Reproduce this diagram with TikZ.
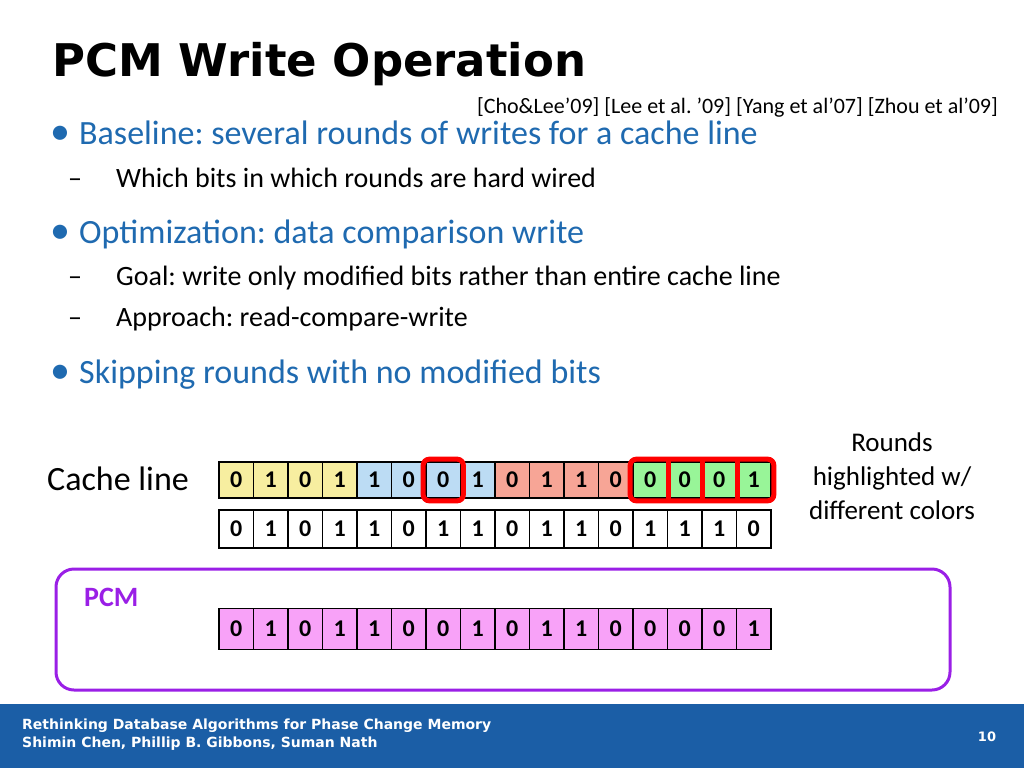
\documentclass[tikz,border=0pt]{standalone}
\usepackage{fontspec}
\setmainfont{Carlito}
\newfontfamily\verd{DejaVu Sans}
\usetikzlibrary{positioning}
\frenchspacing
\definecolor{hdblue}{HTML}{1F6AB0}
\definecolor{ftblue}{HTML}{1B5EA6}
\definecolor{pcmpurple}{HTML}{9A1FE6}
\definecolor{cyel}{HTML}{F7EEA0}
\definecolor{cblu}{HTML}{BCDCF4}
\definecolor{csal}{HTML}{F7A596}
\definecolor{cgrn}{HTML}{98F598}
\definecolor{cpnk}{HTML}{F8A2F8}
\tikzset{bit/.style={draw=black,line width=1.6pt,minimum width=34.5pt,inner sep=0pt,font=\fontsize{24}{26}\selectfont\bfseries},
  hl/.style={draw=red,line width=5pt,rounded corners=6pt}}
\begin{document}
\begin{tikzpicture}[x=1pt,y=-1pt]
\useasboundingbox (0,0) rectangle (1024,768);
% title and bullets
\node[anchor=base west,inner sep=0pt] (title) at (52,77) {\verd\fontsize{45}{48}\selectfont\bfseries PCM Write Operation};
\node[anchor=base east,inner sep=0pt] (cite) at (998,113) {\fontsize{22}{24}\selectfont [Cho\&Lee’09] [Lee et al. ’09] [Yang et al’07] [Zhou et al’09]};
\foreach \y/\t in {144/Baseline: several rounds of writes for a cache line,
                   243/Optimization: data comparison write,
                   383/Skipping rounds with no modified bits}{
  \node[anchor=base west,inner sep=0pt,text=hdblue] at (50,\y) {\fontsize{40}{40}\selectfont •};
  \node[anchor=base west,inner sep=0pt,text=hdblue] at (79,\y) {\fontsize{34}{36}\selectfont \t};
}
\foreach \y/\t in {187/Which bits in which rounds are hard wired,
                   285/Goal: write only modified bits rather than entire cache line,
                   326/Approach: read-compare-write}{
  \node[anchor=base west,inner sep=0pt] at (68,\y) {\fontsize{28}{30}\selectfont –};
  \node[anchor=base west,inner sep=0pt] at (116,\y) {\fontsize{28}{30}\selectfont \t};
}
% cache line
\node[anchor=base,inner sep=0pt] (cl) at (118,490) {\fontsize{34}{36}\selectfont Cache line};
\node[align=center,inner sep=0pt,font=\fontsize{27}{34}\selectfont] (rnd) at (892,476) {Rounds\\highlighted w/\\different colors};
\foreach \b [count=\i] in {0,1,0,1,1,0,0,1,0,1,1,0,0,0,0,1}{
  \pgfmathsetmacro\c{\i<5?"cyel":(\i<9?"cblu":(\i<13?"csal":"cgrn"))}
  \node[bit,fill=\c,minimum height=36pt] (a\i) at (201.75+34.5*\i,480) {\b};
}
\foreach \b [count=\i] in {0,1,0,1,1,0,1,1,0,1,1,0,1,1,1,0}
  \node[bit,fill=white,minimum height=38pt] (b\i) at (201.75+34.5*\i,529) {\b};
\draw[hl] ([shift={(-2,-2)}]a7.north west) rectangle ([shift={(2,2)}]a7.south east);
\draw[hl] ([shift={(-2,-2)}]a13.north west) rectangle ([shift={(2,2)}]a16.south east);
\foreach \i in {13,14,15}
  \draw[red,line width=5pt] (a\i.north east) -- (a\i.south east);
% PCM
\draw[pcmpurple,line width=3pt,rounded corners=18pt] (56,569) rectangle (950,690);
\node[anchor=base west,inner sep=0pt,text=pcmpurple] (pcm) at (84,606) {\fontsize{28}{30}\selectfont\bfseries PCM};
\foreach \b [count=\i] in {0,1,0,1,1,0,0,1,0,1,1,0,0,0,0,1}
  \node[bit,fill=cpnk,minimum height=41pt] (p\i) at (201.75+34.5*\i,629) {\b};
% footer
\fill[ftblue] (0,704) rectangle (1024,768);
\node[anchor=base west,inner sep=0pt,text=white] (ft) at (22,729) {\verd\fontsize{14}{16}\selectfont\bfseries Rethinking Database Algorithms for Phase Change Memory};
\node[anchor=base west,inner sep=0pt,text=white] (au) at (22,747) {\verd\fontsize{14}{16}\selectfont\bfseries Shimin Chen, Phillip B. Gibbons, Suman Nath};
\node[anchor=base,inner sep=0pt,text=white] (pg) at (987,741) {\verd\fontsize{13}{15}\selectfont\bfseries 10};
\end{tikzpicture}
\end{document}
